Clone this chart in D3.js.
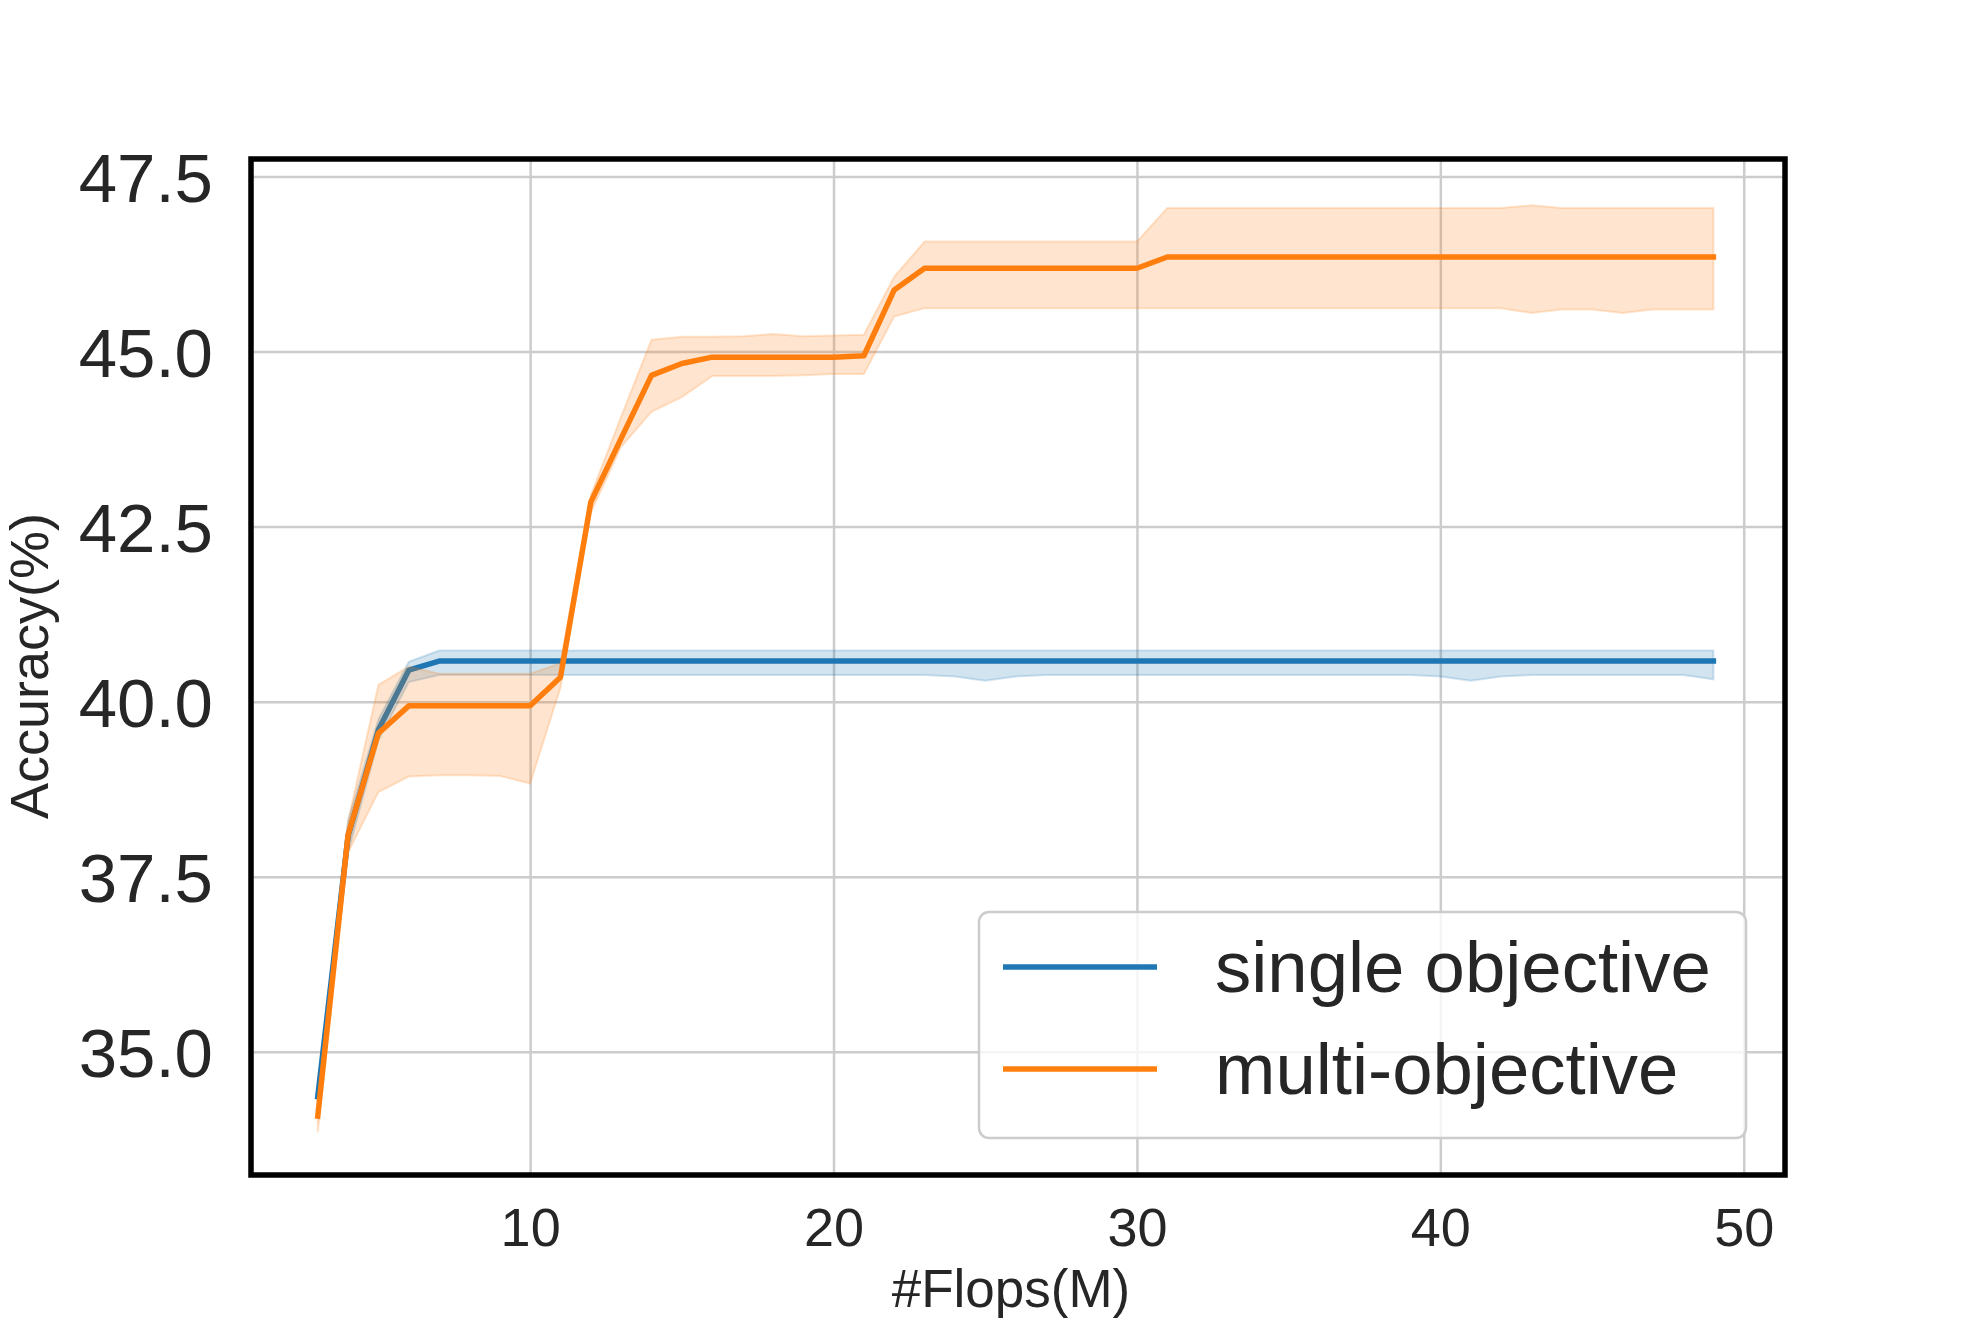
<!DOCTYPE html>
<html>
<head>
<meta charset="utf-8">
<script src="https://cdn.jsdelivr.net/npm/d3@7"></script>
<style>
  body { margin: 0; background: #fff; }
  #chart--wrap text { font-family: "Liberation Sans", Arial, sans-serif; fill: #262626; }
</style>
</head>
<body>
<div id="chart--wrap"></div>
<script>
// x values (#Flops, M)
const flops = [
  3, 4, 5, 6, 7, 8, 9, 10, 11, 12,
  13, 14, 15, 16, 17, 18, 19, 20, 21, 22,
  23, 24, 25, 26, 27, 28, 29, 30, 31, 32,
  33, 34, 35, 36, 37, 38, 39, 40, 41, 42,
  43, 44, 45, 46, 47, 48, 49];

// single objective: mean and band (rows: x=3-12, 13-22, 23-32, 33-42, 43-49)
const singleMean = [
  34.36, 38.08, 39.60, 40.45, 40.58, 40.58, 40.58, 40.58, 40.58, 40.58,
  40.58, 40.58, 40.58, 40.58, 40.58, 40.58, 40.58, 40.58, 40.58, 40.58,
  40.58, 40.58, 40.58, 40.58, 40.58, 40.58, 40.58, 40.58, 40.58, 40.58,
  40.58, 40.58, 40.58, 40.58, 40.58, 40.58, 40.58, 40.58, 40.58, 40.58,
  40.58, 40.58, 40.58, 40.58, 40.58, 40.58, 40.58];
const singleLow = [
  34.20, 37.85, 39.45, 40.28, 40.38, 40.38, 40.38, 40.38, 40.38, 40.38,
  40.38, 40.38, 40.38, 40.38, 40.38, 40.38, 40.38, 40.38, 40.38, 40.38,
  40.38, 40.36, 40.30, 40.36, 40.38, 40.38, 40.38, 40.38, 40.38, 40.38,
  40.38, 40.38, 40.38, 40.38, 40.38, 40.38, 40.38, 40.36, 40.30, 40.36,
  40.38, 40.38, 40.38, 40.38, 40.38, 40.38, 40.32];
const singleHigh = [
  34.50, 38.30, 39.75, 40.57, 40.73, 40.73, 40.73, 40.73, 40.73, 40.73,
  40.73, 40.73, 40.73, 40.73, 40.73, 40.73, 40.73, 40.73, 40.73, 40.73,
  40.73, 40.73, 40.73, 40.73, 40.73, 40.73, 40.73, 40.73, 40.73, 40.73,
  40.73, 40.73, 40.73, 40.73, 40.73, 40.73, 40.73, 40.73, 40.73, 40.73,
  40.73, 40.73, 40.73, 40.73, 40.73, 40.73, 40.73];

// multi-objective: mean and band
const multiMean = [
  34.08, 38.10, 39.55, 39.94, 39.94, 39.94, 39.94, 39.94, 40.35, 42.85,
  43.76, 44.66, 44.83, 44.92, 44.92, 44.92, 44.92, 44.92, 44.94, 45.88,
  46.19, 46.19, 46.19, 46.19, 46.19, 46.19, 46.19, 46.19, 46.35, 46.35,
  46.35, 46.35, 46.35, 46.35, 46.35, 46.35, 46.35, 46.35, 46.35, 46.35,
  46.35, 46.35, 46.35, 46.35, 46.35, 46.35, 46.35];
const multiLow = [
  33.85, 37.85, 38.71, 38.93, 38.95, 38.95, 38.94, 38.83, 40.20, 42.70,
  43.64, 44.14, 44.35, 44.65, 44.65, 44.65, 44.66, 44.68, 44.68, 45.50,
  45.62, 45.62, 45.62, 45.62, 45.62, 45.62, 45.62, 45.62, 45.62, 45.62,
  45.62, 45.62, 45.62, 45.62, 45.62, 45.62, 45.62, 45.62, 45.62, 45.62,
  45.55, 45.60, 45.60, 45.55, 45.60, 45.60, 45.60];
const multiHigh = [
  34.30, 38.30, 40.24, 40.50, 40.40, 40.40, 40.40, 40.40, 40.55, 42.95,
  44.07, 45.17, 45.21, 45.21, 45.22, 45.25, 45.22, 45.23, 45.24, 46.07,
  46.57, 46.57, 46.57, 46.57, 46.57, 46.57, 46.57, 46.57, 47.05, 47.05,
  47.05, 47.05, 47.05, 47.05, 47.05, 47.05, 47.05, 47.05, 47.05, 47.05,
  47.09, 47.05, 47.05, 47.05, 47.05, 47.05, 47.05];

const xTickValues = [10, 20, 30, 40, 50];
const yTickValues = [35, 37.5, 40, 42.5, 45, 47.5];
const xDomain = [0.8, 51.36];
const yDomain = [33.24, 47.75];

const catConfig = [
  { legendText: 'single objective', color: '#1f77b4', mean: singleMean, low: singleLow, high: singleHigh },
  { legendText: 'multi-objective', color: '#ff7f0e', mean: multiMean, low: multiLow, high: multiHigh }
];

const margin = { top: 159, right: 195, bottom: 149, left: 251 };
const width = 1980 - margin.left - margin.right;
const height = 1324 - margin.top - margin.bottom;

const wrap = d3.select('#chart--wrap');
const svg = wrap.append('svg')
  .attr('width', width + margin.left + margin.right)
  .attr('height', height + margin.top + margin.bottom);

const group = svg.append('g')
  .attr('transform', `translate(${margin.left}, ${margin.top})`);

// Scales and axes
const x = d3.scaleLinear().domain(xDomain).range([0, width]);
const y = d3.scaleLinear().domain(yDomain).range([height, 0]);

const xAxis = d3.axisBottom(x).tickValues(xTickValues).tickSize(0).tickPadding(33);
const yAxis = d3.axisLeft(y).tickValues(yTickValues).tickSize(0).tickPadding(38).tickFormat(d3.format('.1f'));

// Grid lines
group.append('g')
  .attr('class', 'grid')
  .call(d3.axisLeft(y).tickValues(yTickValues).tickSize(-width).tickFormat(''))
  .call(g => g.select('.domain').remove())
  .selectAll('line')
  .attr('stroke', '#cccccc')
  .attr('stroke-width', 2.5);

group.append('g')
  .attr('class', 'grid')
  .attr('transform', `translate(0, ${height})`)
  .call(d3.axisBottom(x).tickValues(xTickValues).tickSize(-height).tickFormat(''))
  .call(g => g.select('.domain').remove())
  .selectAll('line')
  .attr('stroke', '#cccccc')
  .attr('stroke-width', 2.5);

// Axes
group.append('g')
  .attr('class', 'x-axis')
  .attr('transform', `translate(0, ${height})`)
  .call(xAxis)
  .call(g => g.select('.domain').remove())
  .selectAll('text')
  .attr('font-size', 54);

group.append('g')
  .attr('class', 'y-axis')
  .call(yAxis)
  .call(g => g.select('.domain').remove())
  .selectAll('text')
  .attr('font-size', 69)
  .attr('dy', '0.36em');

// Lines and bands
const line = d3.line()
  .x(d => x(d.flops))
  .y(d => y(d.mean));

const band = d3.area()
  .x(d => x(d.flops))
  .y0(d => y(d.low))
  .y1(d => y(d.high));

catConfig.forEach(cat => {
  const points = flops.map((f, i) => ({ flops: f, mean: cat.mean[i], low: cat.low[i], high: cat.high[i] }));

  group.append('path')
    .datum(points)
    .attr('class', 'line')
    .attr('d', line)
    .attr('fill', 'none')
    .attr('stroke', cat.color)
    .attr('stroke-width', 5.5)
    .attr('stroke-linejoin', 'round')
    .attr('stroke-linecap', 'square');

  group.append('path')
    .datum(points)
    .attr('class', 'band')
    .attr('d', band)
    .attr('fill', cat.color)
    .attr('fill-opacity', 0.2)
    .attr('stroke', cat.color)
    .attr('stroke-opacity', 0.2)
    .attr('stroke-width', 2);
});

// Frame
group.append('rect')
  .attr('width', width)
  .attr('height', height)
  .attr('fill', 'none')
  .attr('stroke', '#000')
  .attr('stroke-width', 5.5);

// Axis titles
group.append('text')
  .attr('x', width / 2 - 7)
  .attr('y', height + 132)
  .attr('text-anchor', 'middle')
  .attr('font-size', 53)
  .text('#Flops(M)');

group.append('text')
  .attr('transform', `translate(${48 - margin.left}, ${height / 2 - 1}) rotate(-90)`)
  .attr('text-anchor', 'middle')
  .attr('font-size', 54)
  .text('Accuracy(%)');

// Legend
const legendBox = { x: 728, y: 753, w: 767, h: 226 };
const legend = group.append('g')
  .attr('class', 'legend')
  .attr('transform', `translate(${legendBox.x}, ${legendBox.y})`);

legend.append('rect')
  .attr('width', legendBox.w)
  .attr('height', legendBox.h)
  .attr('rx', 10)
  .attr('fill', '#fff')
  .attr('fill-opacity', 0.8)
  .attr('stroke', '#cccccc')
  .attr('stroke-width', 2.5);

const key = legend.selectAll('.key')
  .data(catConfig)
  .enter()
  .append('g')
  .attr('class', 'key')
  .attr('transform', (d, i) => `translate(0, ${55 + i * 102})`);

key.append('line')
  .attr('x1', 24)
  .attr('x2', 178)
  .attr('stroke', d => d.color)
  .attr('stroke-width', 5.5);

key.append('text')
  .attr('x', 236)
  .attr('y', 25)
  .attr('font-size', 72.5)
  .text(d => d.legendText);
</script>
</body>
</html>
